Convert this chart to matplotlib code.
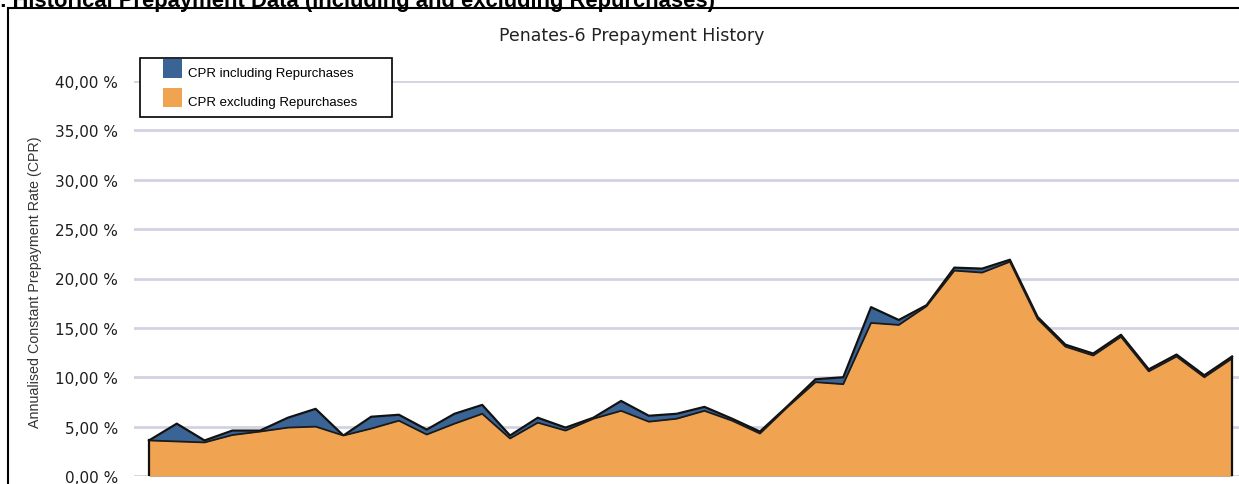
import matplotlib
matplotlib.use("Agg")
import matplotlib.pyplot as plt
from matplotlib.patches import Rectangle
from matplotlib.lines import Line2D

# ---- data ----
periods = list(range(1, 41))
cpr_incl = [3.6, 5.3, 3.6, 4.6, 4.6, 5.9, 6.8, 4.1, 6.0, 6.2,
            4.7, 6.3, 7.2, 4.1, 5.9, 4.9, 5.9, 7.6, 6.1, 6.3,
            7.0, 5.8, 4.5, 7.1, 9.8, 10.0, 17.1, 15.8, 17.3, 21.1,
            21.0, 21.9, 16.1, 13.3, 12.4, 14.3, 10.8, 12.3, 10.2, 12.1]
cpr_excl = [3.6, 3.5, 3.4, 4.15, 4.5, 4.9, 5.0, 4.1, 4.8, 5.6,
            4.2, 5.3, 6.3, 3.8, 5.4, 4.6, 5.8, 6.6, 5.5, 5.8,
            6.6, 5.6, 4.3, 7.0, 9.5, 9.3, 15.5, 15.3, 17.2, 20.8,
            20.6, 21.7, 15.9, 13.1, 12.2, 14.1, 10.6, 12.1, 10.0, 11.9]
y_ticks = [0, 5, 10, 15, 20, 25, 30, 35, 40]
series_labels = ["CPR including Repurchases", "CPR excluding Repurchases"]
chart_title = "Penates-6 Prepayment History"
page_heading = "5. Historical Prepayment Data (including and excluding Repurchases)"
y_label = "Annualised Constant Prepayment Rate (CPR)"

BLUE = "#3A6495"
ORANGE = "#F0A452"
series_colors = [BLUE, ORANGE]

W, H = 1239, 485
fig = plt.figure(figsize=(W / 100, H / 100), dpi=100)

def fx(px):
    return px / W

def fy(py):
    return 1 - py / H

ax = fig.add_axes([fx(134), fy(477), fx(1239) - fx(134), fy(82) - fy(477)])
x = list(range(len(periods)))
ax.fill_between(x, 0, cpr_incl, color=BLUE, lw=0, zorder=2)
ax.plot(x, cpr_incl, color="#111111", lw=1.6, zorder=3)
ax.fill_between(x, 0, cpr_excl, color=ORANGE, lw=0, zorder=4)
ax.plot(x, cpr_excl, color="#1a1a1a", lw=1.3, zorder=4.2)
ax.plot([x[0], x[0]], [0, cpr_incl[0]], color="#111111", lw=1.6, zorder=4.3)
ax.plot([x[-1], x[-1]], [0, cpr_incl[-1]], color="#111111", lw=1.6, zorder=4.3)

ax.set_xlim(-0.54, 39.25)
ax.set_ylim(0, 40)
ax.set_yticks(y_ticks)
ax.set_yticklabels([("%.2f" % v).replace(".", ",") + " %" for v in y_ticks],
                   family="DejaVu Sans", fontsize=11, color="#1e1e1e")
ax.set_xticks([])
ax.tick_params(axis="y", length=0, pad=11.5)
for s in ax.spines.values():
    s.set_visible(False)
ax.yaxis.grid(True, color="#d2d2e2", lw=2)
ax.set_axisbelow(True)

# legend box (drawn by hand for exact placement)
rect = Rectangle((fx(140), fy(118)), fx(392) - fx(140), fy(59) - fy(118),
                 transform=fig.transFigure, facecolor="white", edgecolor="black",
                 lw=1.2, zorder=6, clip_on=False)
ax.add_patch(rect)
patch_tops = [60, 89]
text_centers = [74, 103]
for lab, col, ptop, tc in zip(series_labels, series_colors, patch_tops, text_centers):
    ax.add_patch(Rectangle((fx(163), fy(ptop + 19)), fx(182) - fx(163), fy(ptop) - fy(ptop + 19),
                           transform=fig.transFigure, facecolor=col, edgecolor="none",
                           zorder=7, clip_on=False))
    fig.text(fx(188), fy(tc), lab, ha="left", va="center",
             family="Liberation Sans", fontsize=9.5, color="black", zorder=8)

# outer frame
fig.add_artist(Line2D([fx(8), fx(8)], [fy(9), 0], color="black", lw=1.5))
fig.add_artist(Line2D([fx(8), 1], [fy(9), fy(9)], color="black", lw=1.5))

fig.text(fx(632), fy(36), chart_title, ha="center", va="center",
         family="DejaVu Sans", fontsize=12.5, color="#222222")
fig.text(fx(-12), fy(7), page_heading, ha="left", va="baseline",
         family="Liberation Sans", fontweight="bold", fontsize=15.8, color="black")
fig.text(fx(35), fy(282), y_label, rotation=90, ha="center", va="center",
         family="Liberation Sans", fontsize=10.3, color="#333333")

fig.savefig("out.png", dpi=100)
